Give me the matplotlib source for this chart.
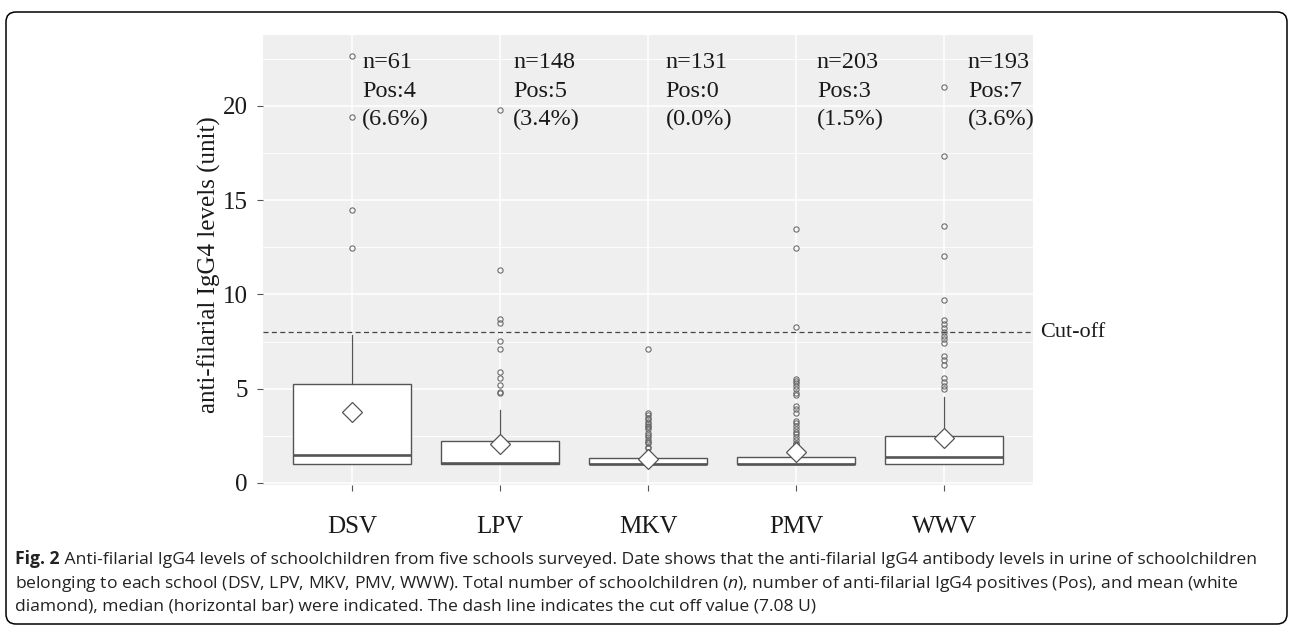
import matplotlib
matplotlib.use("Agg")
import matplotlib.pyplot as plt
from matplotlib.patches import FancyBboxPatch
from matplotlib.transforms import IdentityTransform
from matplotlib.ticker import MultipleLocator

# ---------------- data ----------------
categories = ["DSV", "LPV", "MKV", "PMV", "WWV"]
q1 = [1.0, 1.0, 1.0, 1.0, 1.0]
medians = [1.49, 1.04, 1.02, 1.02, 1.40]
q3 = [5.23, 2.24, 1.31, 1.40, 2.51]
whisker_low = [1.0, 1.0, 1.0, 1.0, 1.0]
whisker_high = [7.83, 3.85, 1.75, 1.95, 4.58]
means = [3.77, 2.05, 1.28, 1.62, 2.37]
outliers_dsv = [22.64, 19.43, 14.5, 12.45]
outliers_lpv = [19.8, 11.28, 8.68, 8.47, 7.55, 7.11, 5.9, 5.59, 5.2, 4.85, 4.76]
outliers_mkv = [7.11, 3.70, 3.62, 3.47, 3.38, 3.25, 3.15, 3.04, 2.95, 2.85,
                2.64, 2.55, 2.46, 2.28, 2.20, 2.10, 1.93, 1.85]
outliers_pmv = [13.5, 12.45, 8.29, 5.5, 5.4, 5.29, 5.15, 4.97, 4.76, 4.65,
                4.08, 3.9, 3.73, 3.3, 3.17, 3.02, 2.86, 2.72, 2.58, 2.42,
                2.28, 2.14, 2.05]
outliers_wwv = [21.0, 17.36, 13.63, 12.04, 9.69, 8.65, 8.43, 8.24, 8.03, 7.8,
                7.62, 7.44, 6.74, 6.53, 6.26, 5.55, 5.37, 5.15, 4.97]
n_total = [61, 148, 131, 203, 193]
n_pos = [4, 5, 0, 3, 7]
cutoff = 8.0
y_ticks = [0, 5, 10, 15, 20]
y_label = "anti-filarial IgG4 levels (unit)"

caption_bold = "Fig. 2"
caption_lines = [
    " Anti-filarial IgG4 levels of schoolchildren from five schools surveyed. "
    "Date shows that the anti-filarial IgG4 antibody levels in urine of schoolchildren",
    r"belonging to each school (DSV, LPV, MKV, PMV, WWW). Total number of schoolchildren ($\mathit{n}$), "
    "number of anti-filarial IgG4 positives (Pos), and mean (white",
    "diamond), median (horizontal bar) were indicated. The dash line indicates the cut off value (7.08 U)",
]

# ---------------- style ----------------
SERIF = ["Liberation Serif", "DejaVu Serif"]
plt.rcParams["mathtext.fontset"] = "custom"
plt.rcParams["mathtext.rm"] = "Open Sans"
plt.rcParams["mathtext.it"] = "Open Sans:italic"
plt.rcParams["mathtext.bf"] = "Open Sans:bold"

W, H, DPI = 1292, 628, 100
fig = plt.figure(figsize=(W / DPI, H / DPI), dpi=DPI)

ax_left, ax_right, ax_top, ax_bottom = 263, 1033, 35.3, 484.6
ax = fig.add_axes([ax_left / W, 1 - ax_bottom / H,
                   (ax_right - ax_left) / W, (ax_bottom - ax_top) / H])
ax.set_facecolor("#efefef")
for s in ax.spines.values():
    s.set_visible(False)

positions = list(range(1, len(categories) + 1))
all_outliers = [outliers_dsv, outliers_lpv, outliers_mkv, outliers_pmv, outliers_wwv]
stats = []
for i, c in enumerate(categories):
    stats.append(dict(label=c, q1=q1[i], med=medians[i], q3=q3[i],
                      whislo=whisker_low[i], whishi=whisker_high[i],
                      mean=means[i], fliers=all_outliers[i]))

edge = "#555555"
ax.bxp(stats, positions=positions, widths=0.8, patch_artist=True,
       showcaps=False, showmeans=True, meanline=False,
       boxprops=dict(facecolor="white", edgecolor=edge, linewidth=1.0),
       medianprops=dict(color=edge, linewidth=1.9),
       whiskerprops=dict(color=edge, linewidth=0.9),
       flierprops=dict(marker="o", markerfacecolor="none", markeredgecolor="#666666",
                       markersize=3.8, markeredgewidth=0.75),
       meanprops=dict(marker="D", markerfacecolor="white", markeredgecolor=edge,
                      markersize=9.8, markeredgewidth=0.9),
       zorder=3)

ax.set_xlim(0.4, 5.6)
ax.set_ylim(-0.085, 23.75)
ax.set_xticks(positions)
ax.set_xticklabels(categories, family=SERIF, fontsize=18)
ax.set_yticks(y_ticks)
ax.set_yticklabels([str(t) for t in y_ticks], family=SERIF, fontsize=18)
ax.yaxis.set_minor_locator(MultipleLocator(2.5))
ax.tick_params(axis="both", which="major", length=4, width=0.8, color="#555555",
               labelcolor="#1a1a1a")
ax.tick_params(axis="x", pad=18.5)
ax.tick_params(axis="y", pad=7)
ax.tick_params(axis="y", which="minor", length=0)
ax.grid(True, which="major", color="white", linewidth=1.1, zorder=0)
ax.grid(True, which="minor", axis="y", color="white", linewidth=0.6, zorder=0)
ax.set_axisbelow(True)

ax.set_ylabel(y_label, family=SERIF, fontsize=18, color="#1a1a1a", va="center")
ax.yaxis.set_label_coords((209 - ax_left) / (ax_right - ax_left), 0.49)

# cut-off line
ax.axhline(cutoff, color="#444444", linewidth=0.9, linestyle=(0, (4, 2.7)), zorder=2)
ax.text(5.647, cutoff, "Cut-off", family=SERIF, fontsize=16, va="center",
        ha="left", color="#1a1a1a", clip_on=False)

# annotations
label_dx = [0.07, 0.09, 0.12, 0.14, 0.16]
for i, p in enumerate(positions):
    pct = 100.0 * n_pos[i] / n_total[i]
    txt = f"n={n_total[i]}\nPos:{n_pos[i]}\n({pct:.1f}%)"
    ax.text(p + label_dx[i], 20.78, txt, family=SERIF, fontsize=17.5,
            ha="left", va="center", linespacing=1.45, color="#1a1a1a", zorder=5)

# caption (baselines)
cap_y = [563.5, 587.5, 610.5]
cap_x0 = 15
bold = fig.text(cap_x0 / W, 1 - cap_y[0] / H, caption_bold, family="Open Sans",
                fontweight="bold", fontsize=12.6, ha="left", va="baseline",
                color="#222222")
renderer = fig.canvas.get_renderer()
bb = bold.get_window_extent(renderer=renderer)
for k, (line, y) in enumerate(zip(caption_lines, cap_y)):
    x = (bb.x1 / W) if k == 0 else cap_x0 / W
    fig.text(x, 1 - y / H, line, family="Open Sans", fontsize=12.6,
             ha="left", va="baseline", color="#222222")

# rounded border
border = FancyBboxPatch((6, 4), 1281, 612,
                        boxstyle="round,pad=0,rounding_size=10",
                        transform=IdentityTransform(), fill=False,
                        edgecolor="black", linewidth=1.1)
fig.patches.append(border)

fig.savefig("out.png", dpi=DPI, facecolor="white")
